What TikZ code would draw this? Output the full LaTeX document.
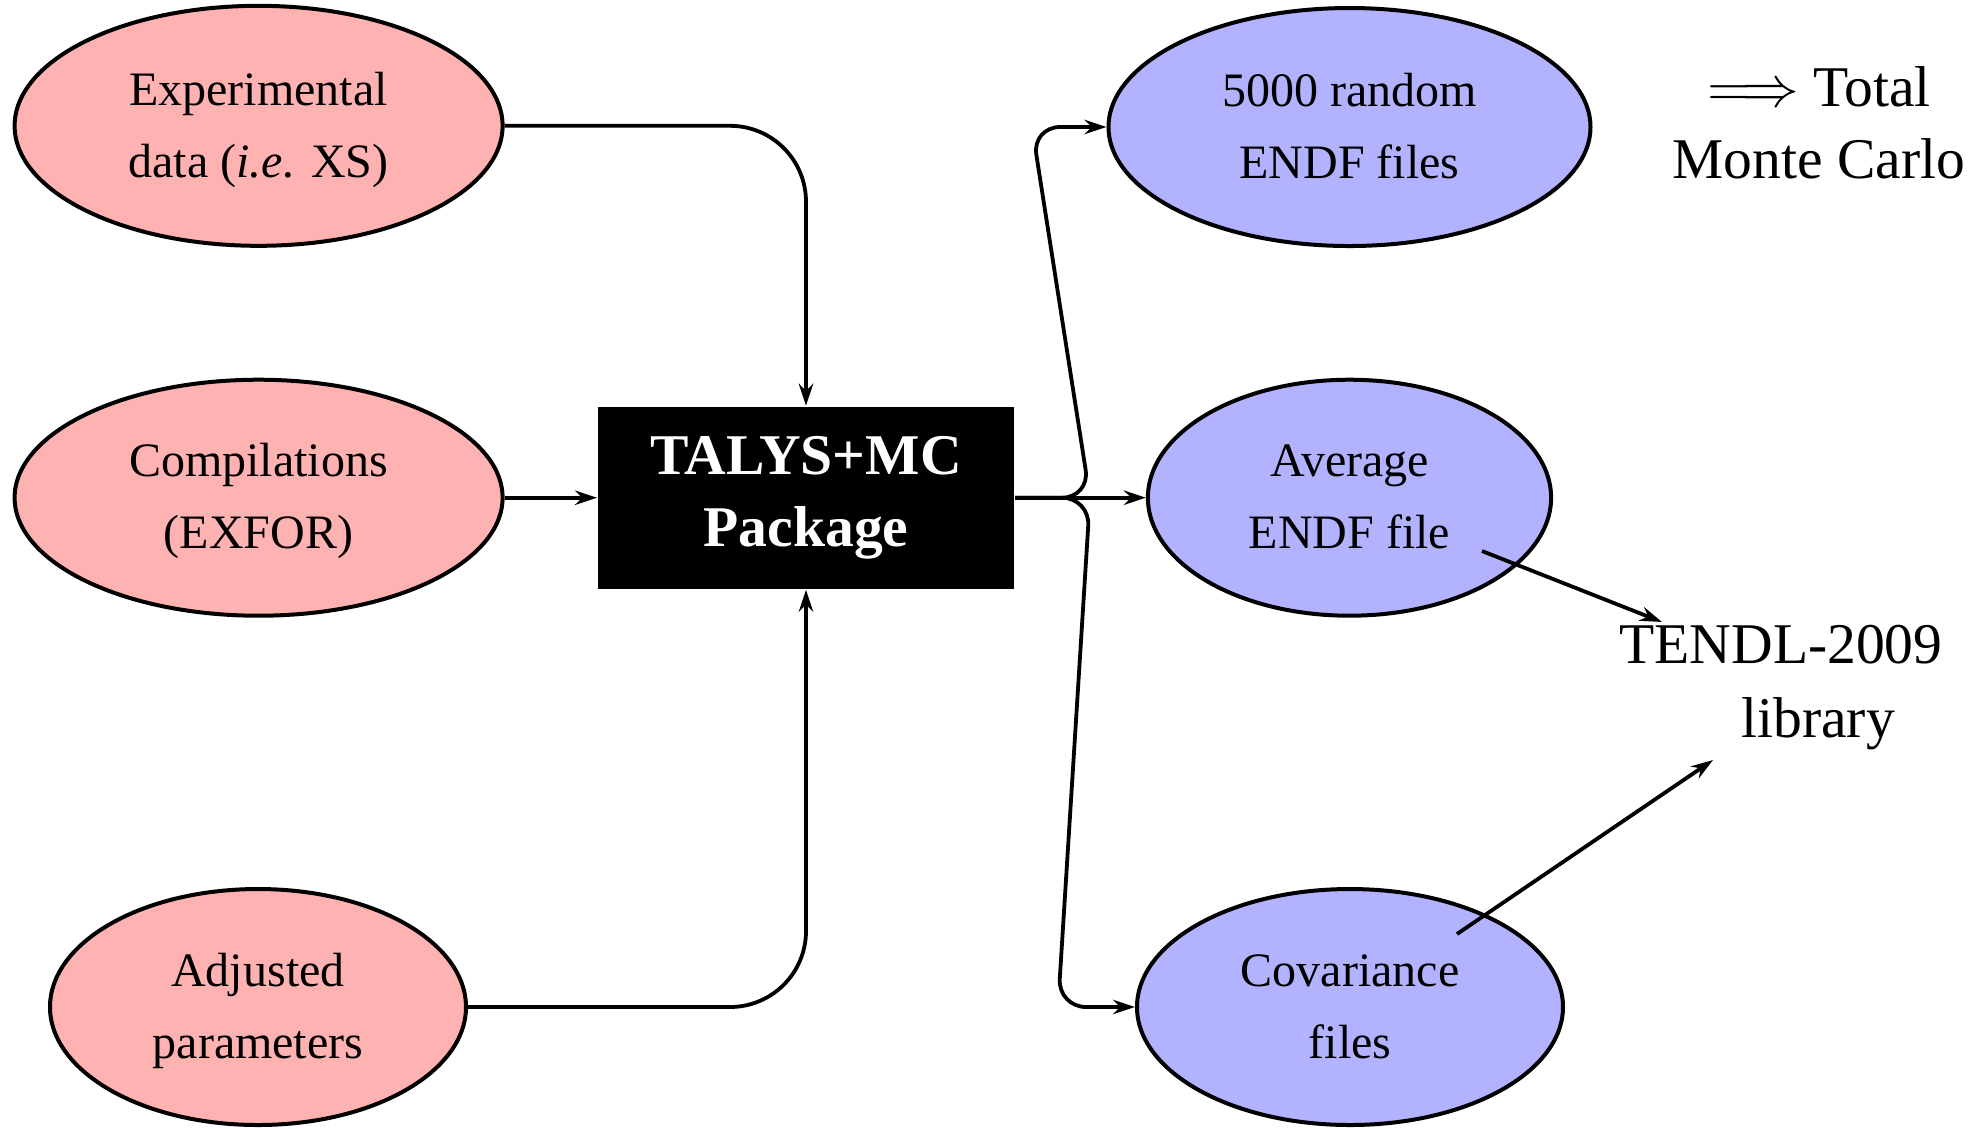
\documentclass[tikz,border=0pt]{standalone}
\usepackage{fontspec}
\setmainfont{Liberation Serif}
\usetikzlibrary{shapes.geometric,arrows.meta}
\newcommand\tline[1]{\rule{0pt}{7.6pt}\smash{#1}}
\begin{document}
\begin{tikzpicture}[x=0.25pt,y=-0.25pt,
  inbox/.style={ellipse, draw, line width=1pt, fill=red!30, inner sep=0pt, align=center, font=\fontsize{12}{18}\selectfont},
  outbox/.style={ellipse, draw, line width=1pt, fill=blue!30, inner sep=0pt, align=center, font=\fontsize{12}{18}\selectfont},
  core/.style={rectangle, fill=black, text=white, align=center, inner sep=0pt, font=\fontsize{14.4}{18}\selectfont\bfseries},
  conn/.style={line width=0.95pt, -{Stealth[length=5.5pt,width=3.6pt,inset=1.8pt]}},
  note/.style={align=center, font=\fontsize{14.4}{18}\selectfont}
]
\useasboundingbox (0,0) rectangle (1973,1128);

\node[inbox, minimum width=122pt, minimum height=60pt] (exp) at (258.6,125.8) {\tline{Experimental}\\\tline{data (\textit{i.e.} XS)}};
\node[inbox, minimum width=122pt, minimum height=59pt] (comp) at (258.6,497.7) {\tline{Compilations}\\\tline{(EXFOR)}};
\node[inbox, minimum width=104pt, minimum height=59pt] (adj) at (258,1007) {\tline{Adjusted}\\\tline{parameters}};

\node[core, minimum width=104.1pt, minimum height=45.6pt] (talys) at (806,497.7) {TALYS+MC\\Package};

\node[outbox, minimum width=120.5pt, minimum height=59.5pt] (rand) at (1349.5,127) {\tline{5000 random}\\\tline{ENDF files}};
\node[outbox, minimum width=100.8pt, minimum height=59pt] (avg) at (1349.5,497.7) {\tline{Average}\\\tline{ENDF file}};
\node[outbox, minimum width=106.5pt, minimum height=59pt] (cov) at (1350,1007) {\tline{Covariance}\\\tline{files}};

\node[note] (tmc) at (1819,122.5) {$\Longrightarrow$ Total\\Monte Carlo};
\node[note, font=\fontsize{14.4}{18.5}\selectfont] (tendl) at (1781,688) {TENDL-2009\\\hspace*{18.5pt}library};

\coordinate (up1) at (1090,497.7);
\coordinate (up2) at (1032,127);
\coordinate (dn1) at (1090,497.7);
\coordinate (dn2) at (1058,1007);
\coordinate (s1) at (1482,551);
\coordinate (t1) at (1662,622);
\coordinate (s2) at (1457,934);
\coordinate (t2) at (1713,760);

\draw[conn, rounded corners=19pt] (exp.east) -| (talys.north);
\draw[conn] (comp.east) -- (talys.west);
\draw[conn, rounded corners=19pt] (adj.east) -| (talys.south);

\draw[conn] (talys.east) -- (avg.west);
\draw[conn, rounded corners=7pt] (talys.east) -- (up1) -- (up2) -- (rand.west);
\draw[conn, rounded corners=7pt] (talys.east) -- (dn1) -- (dn2) -- (cov.west);

\draw[conn] (s1) -- (t1);
\draw[conn] (s2) -- (t2);
\end{tikzpicture}
\end{document}
